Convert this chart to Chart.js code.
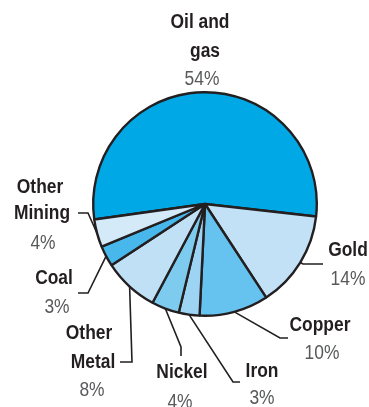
<!DOCTYPE html>
<html>
<head>
<meta charset="utf-8">
<script src="https://cdn.jsdelivr.net/npm/chart.js@4/dist/chart.umd.min.js"></script>
<style>
  html,body{margin:0;padding:0;background:#fff;}
  #wrap{width:369px;height:407px;position:relative;}
</style>
</head>
<body>
<div id="wrap"><canvas id="pie" width="369" height="407"></canvas></div>
<script>
// slices in clockwise order, starting with Oil and gas
const labels = ['Oil and gas','Gold','Copper','Iron','Nickel','Other Metal','Coal','Other Mining'];
const shares = [54,14,10,3,4,8,3,4];
const colors = ['#00a9e6','#c2e1f6','#66c2ee','#9dd4f3','#7ecbf0','#c0e0f6','#48b8ec','#d5eaf9'];

const FONT = '"Liberation Sans",Arial,sans-serif';
const INK = '#231f20';
const GREY = '#58595b';
const SQUEEZE = 0.87; // condensed look

// label layout: text lines [x,y] and leader polyline ending at slice edge
const LAYOUT = [
  {lines:[['Oil and',200,22],['gas',205,51]], pct:[202,79], lead:null},
  {lines:[['Gold',348,250]], pct:[348,279], lead:[[323,264],[303,264]]},
  {lines:[['Copper',320,325]], pct:[322,353], lead:[[288,338],[280,338]]},
  {lines:[['Iron',262,371]], pct:[262,398], lead:[[240,382],[233,382]]},
  {lines:[['Nickel',182,372]], pct:[180,402], lead:[[181,356],[181,347]]},
  {lines:[['Other',89,333],['Metal',93,362]], pct:[92,390], lead:[[120,362],[132,362]]},
  {lines:[['Coal',54,278]], pct:[57,307], lead:[[78,293],[88,293]]},
  {lines:[['Other',40,187],['Mining',42,213]], pct:[43,243], lead:[[78,213],[88,213]]}
];

function squeezedText(ctx, txt, x, y){
  ctx.save();
  ctx.translate(x, y);
  ctx.scale(SQUEEZE, 1);
  ctx.fillText(txt, 0, 0);
  ctx.restore();
}

const labelPlugin = {
  id:'sliceLabels',
  afterDraw:function(chart){
    const ctx = chart.ctx;
    const meta = chart.getDatasetMeta(0);
    ctx.save();
    ctx.textAlign = 'center';
    ctx.textBaseline = 'middle';
    LAYOUT.forEach(function(l,i){
      const arc = meta.data[i];
      if(l.lead){
        const mid = (arc.startAngle+arc.endAngle)/2;
        const ex = arc.x + Math.cos(mid)*arc.outerRadius;
        const ey = arc.y + Math.sin(mid)*arc.outerRadius;
        ctx.strokeStyle = INK; ctx.lineWidth = 1.6;
        ctx.beginPath();
        ctx.moveTo(l.lead[0][0], l.lead[0][1]);
        for(let k=1;k<l.lead.length;k++) ctx.lineTo(l.lead[k][0], l.lead[k][1]);
        ctx.lineTo(ex, ey);
        ctx.stroke();
      }
      ctx.fillStyle = INK;
      ctx.font = 'bold 20px '+FONT;
      l.lines.forEach(function(t){ squeezedText(ctx, t[0], t[1], t[2]); });
      ctx.fillStyle = GREY;
      ctx.font = '20px '+FONT;
      squeezedText(ctx, shares[i]+'%', l.pct[0], l.pct[1]);
    });
    ctx.restore();
  }
};

new Chart(document.getElementById('pie'),{
  type:'pie',
  data:{labels:labels, datasets:[{data:shares, backgroundColor:colors, borderColor:INK, borderWidth:2.4}]},
  options:{
    responsive:false, animation:false,
    rotation:-98,
    layout:{padding:{left:92,right:51,top:91,bottom:90}},
    plugins:{legend:{display:false}, tooltip:{enabled:false}}
  },
  plugins:[labelPlugin]
});
</script>
</body>
</html>
